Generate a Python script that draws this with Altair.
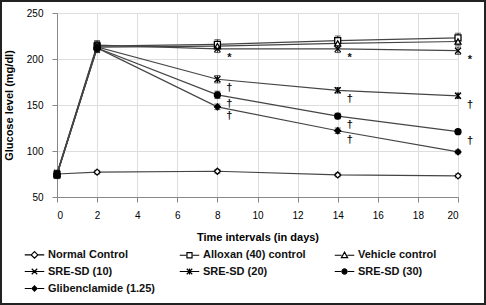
import altair as alt
import pandas as pd

days = [0, 2, 8, 14, 20]
series_names = ["Normal Control", "Alloxan (40) control", "Vehicle control",
                "SRE-SD (10)", "SRE-SD (20)", "SRE-SD (30)", "Glibenclamide (1.25)"]
normal = [75, 77, 78, 74, 73]
alloxan = [74, 214, 216, 220, 223]
vehicle = [75, 213, 214, 217, 219]
sre10 = [76, 215, 211, 211, 209]
sre20 = [75, 213, 178, 166, 160]
sre30 = [74, 212, 161, 138, 121]
glib = [75, 212, 148, 122, 99]
values = [normal, alloxan, vehicle, sre10, sre20, sre30, glib]

err_normal = [2, 2, 2, 2, 2]
err_alloxan = [4, 5, 5, 5, 5]
err_vehicle = [4, 5, 4, 5, 4]
err_sre10 = [3, 5, 4, 4, 4]
err_sre20 = [3, 5, 4, 3, 3]
err_sre30 = [3, 5, 4, 3, 2]
err_glib = [3, 5, 3, 3, 2]
errors = [err_normal, err_alloxan, err_vehicle, err_sre10, err_sre20, err_sre30, err_glib]

# significance marks: (series, day, symbol)
sig_series = ["SRE-SD (10)", "SRE-SD (10)", "SRE-SD (10)",
              "SRE-SD (20)", "SRE-SD (20)", "SRE-SD (20)",
              "SRE-SD (30)", "SRE-SD (30)", "SRE-SD (30)",
              "Glibenclamide (1.25)", "Glibenclamide (1.25)"]
sig_days = [8, 14, 20, 8, 14, 20, 8, 14, 20, 8, 14]
sig_marks = ["*", "*", "*", "†", "†", "†", "†", "†", "†", "†", "†"]

rows = []
for name, vals, errs in zip(series_names, values, errors):
    for d, v, e in zip(days, vals, errs):
        rows.append({"series": name, "day": d, "glucose": v, "lo": v - e, "hi": v + e})
df = pd.DataFrame(rows)

lookup = {(r["series"], r["day"]): r["glucose"] for r in rows}
sig_df = pd.DataFrame({
    "series": sig_series, "day": sig_days, "mark": sig_marks,
    "glucose": [lookup[(s, d)] for s, d in zip(sig_series, sig_days)],
})

XPATH = "M-1,-1L1,1M-1,1L1,-1"
ASTPATH = "M-1,-1L1,1M-1,1L1,-1M0,-1L0,1"
plot_shapes = ["diamond", "square", "triangle-up", XPATH, ASTPATH, "circle", "diamond"]
fills = ["white", "white", "white", "black", "black", "black", "black"]
strokes = ["black"] * 7

LINE = "M-1,0H-0.34M0.34,0H1"
legend_shapes = [
    LINE + "M0,-0.34L0.34,0L0,0.34L-0.34,0Z",
    LINE + "M-0.26,-0.26H0.26V0.26H-0.26Z",
    "M-1,0H-0.3M0.3,0H1M0,-0.32L0.32,0.24H-0.32Z",
    "M-1,0H1M-0.28,-0.28L0.28,0.28M-0.28,0.28L0.28,-0.28",
    "M-1,0H1M-0.28,-0.28L0.28,0.28M-0.28,0.28L0.28,-0.28M0,-0.3L0,0.3",
    LINE + "M-0.26,0A0.26,0.26 0 1,0 0.26,0A0.26,0.26 0 1,0 -0.26,0Z",
    LINE + "M0,-0.26L0.26,0L0,0.26L-0.26,0Z",
]

FONT = "Liberation Sans"

x = alt.X("day:Q", scale=alt.Scale(domain=[0, 20], nice=False),
          axis=alt.Axis(values=list(range(0, 21, 2)), title="Time intervals (in days)",
                        titlePadding=11, labelPadding=8))
y = alt.Y("glucose:Q", scale=alt.Scale(domain=[50, 250], nice=False),
          axis=alt.Axis(values=[50, 100, 150, 200, 250], title="Glucose level (mg/dl)",
                        titlePadding=12, labelPadding=9))

base = alt.Chart(df)

lines = base.mark_line(color="#454545", strokeWidth=1.2).encode(x=x, y=y, detail="series:N")

err_rule = base.mark_rule(color="#222", strokeWidth=1).encode(
    x="day:Q", y="lo:Q", y2="hi:Q")
cap_lo = base.mark_tick(color="#222", orient="horizontal", size=6, thickness=1).encode(
    x="day:Q", y="lo:Q")
cap_hi = base.mark_tick(color="#222", orient="horizontal", size=6, thickness=1).encode(
    x="day:Q", y="hi:Q")

points = base.mark_point(stroke="black", strokeWidth=1.3, opacity=1, size=36).encode(
    x="day:Q", y="glucose:Q",
    shape=alt.Shape("series:N", scale=alt.Scale(domain=series_names, range=plot_shapes), legend=None),
    fill=alt.Fill("series:N", scale=alt.Scale(domain=series_names, range=fills), legend=None),
)

leg = alt.Legend(title=None, orient="none", direction="horizontal", legendX=-33, legendY=231,
                 columns=3, values=series_names, gridAlign="all",
                 columnPadding=22, rowPadding=0, symbolSize=380,
                 symbolStrokeWidth=1.2, symbolOpacity=1,
                 labelFont=FONT, labelFontSize=11, labelFontWeight="bold", labelColor="#111",
                 labelOffset=3, labelLimit=200, padding=0)

legend_layer = base.transform_filter("false").mark_point(
    strokeWidth=1.2, opacity=1, size=380).encode(
    x="day:Q", y="glucose:Q",
    shape=alt.Shape("series:N", scale=alt.Scale(domain=series_names, range=legend_shapes), legend=leg),
    fill=alt.Fill("series:N", scale=alt.Scale(domain=series_names, range=fills), legend=leg),
    stroke=alt.Stroke("series:N", scale=alt.Scale(domain=series_names, range=strokes), legend=leg),
)

sig = alt.Chart(sig_df).mark_text(dx=12, dy=9, font=FONT, fontSize=11, fontWeight="bold",
                                  color="#111").encode(x="day:Q", y="glucose:Q", text="mark:N")

frame = alt.Chart(alt.Data(values=[{}])).mark_rect(
    fill="transparent", stroke="#222", strokeWidth=2).encode(
    x=alt.value(-56), x2=alt.value(428), y=alt.value(-12), y2=alt.value(291))

chart = alt.layer(lines, err_rule, cap_lo, cap_hi, points, sig, legend_layer, frame).resolve_scale(
    shape="independent", fill="independent", stroke="independent"
).properties(
    width=401, height=184,
    autosize=alt.AutoSizeParams(type="none"),
    padding={"left": 57, "top": 13, "right": 28, "bottom": 108},
).configure_view(stroke=None).configure_axis(
    domainColor="#a0a0a0", ticks=False, grid=False,
    labelFont=FONT, labelFontSize=11, labelFontWeight="bold", labelColor="#111",
    titleFont=FONT, titleFontSize=12, titleFontWeight="bold", titleColor="#111",
).configure(background="white")

chart.save("out.html", embed_options={"renderer": "svg", "actions": False})
